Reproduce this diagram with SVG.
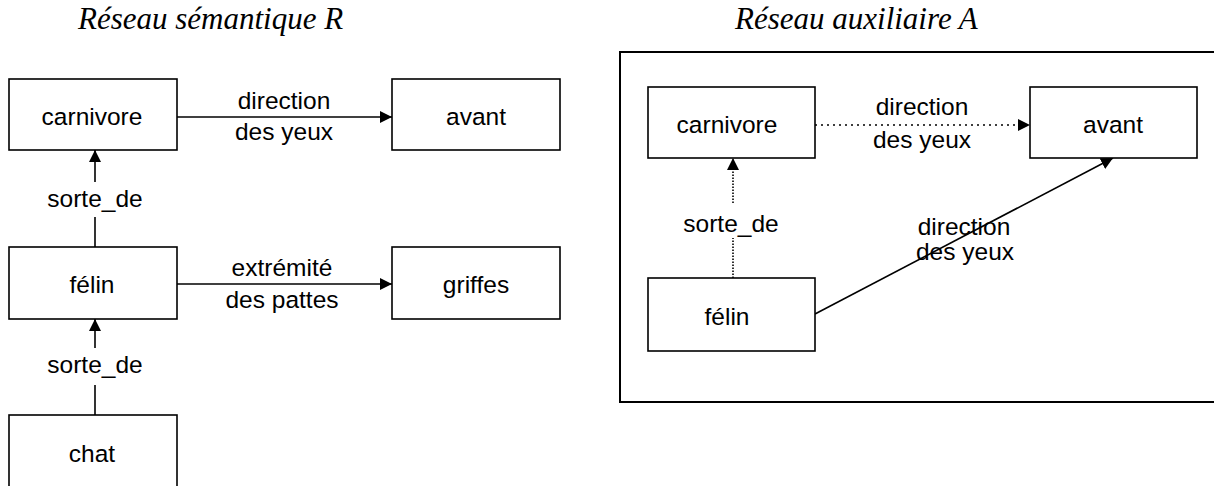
<svg xmlns="http://www.w3.org/2000/svg" width="1214" height="486" viewBox="0 0 1214 486">
<style>
.box{fill:#fff;stroke:#000;stroke-width:1.6}
.t{font-family:"Liberation Sans",Arial,sans-serif;font-size:24.5px;fill:#000;text-anchor:middle}
.title{font-family:"Liberation Serif","Times New Roman",serif;font-style:italic;font-size:31px;fill:#000}
.ln{stroke:#000;stroke-width:1.6;fill:none}
.dot{stroke:#000;stroke-width:1.6;fill:none;stroke-dasharray:2 4}
.vdot{stroke:#000;stroke-width:1.6;fill:none;stroke-dasharray:1.5 1.5}
</style>
<defs>
<marker id="ah" markerUnits="userSpaceOnUse" markerWidth="13" markerHeight="12" refX="12" refY="6" orient="auto">
<path d="M0,0 L12,6 L0,12 z" fill="#000"/>
</marker>
</defs>
<rect width="1214" height="486" fill="#fff"/>
<text class="title" x="78" y="29">Réseau sémantique R</text>
<text class="title" x="735" y="29">Réseau auxiliaire A</text>
<rect id="frameA" x="620" y="52" width="600" height="350" fill="none" stroke="#000" stroke-width="2"/>
<g id="connectors">
<line class="ln" x1="177" y1="117" x2="392" y2="117" marker-end="url(#ah)"/>
<line class="ln" x1="177" y1="284" x2="392" y2="284" marker-end="url(#ah)"/>
<line class="ln" x1="95" y1="247" x2="95" y2="217"/>
<line class="ln" x1="95" y1="182" x2="95" y2="150" marker-end="url(#ah)"/>
<line class="ln" x1="95" y1="415" x2="95" y2="385"/>
<line class="ln" x1="95" y1="348" x2="95" y2="319" marker-end="url(#ah)"/>
<line class="dot" x1="815" y1="125" x2="1030" y2="125" marker-end="url(#ah)"/>
<line class="vdot" x1="733" y1="278" x2="733" y2="238"/>
<line class="vdot" x1="733" y1="203" x2="733" y2="158" marker-end="url(#ah)"/>
<line class="ln" x1="815" y1="314" x2="1113" y2="158" marker-end="url(#ah)"/>
<text class="t" x="284" y="109">direction</text>
<text class="t" x="284" y="140">des yeux</text>
<text class="t" x="282" y="276">extrémité</text>
<text class="t" x="282" y="308">des pattes</text>
<text class="t" x="95" y="207">sorte_de</text>
<text class="t" x="95" y="373">sorte_de</text>
<text class="t" x="922" y="115">direction</text>
<text class="t" x="922" y="148">des yeux</text>
<text class="t" x="731" y="232">sorte_de</text>
<text class="t" x="964" y="235">direction</text>
<text class="t" x="965" y="260">des yeux</text>
</g>
<g id="R-carnivore"><rect class="box" x="9" y="79" width="168" height="71"/><text class="t" x="92" y="125">carnivore</text></g>
<g id="R-avant"><rect class="box" x="392" y="79" width="168" height="71"/><text class="t" x="476" y="125">avant</text></g>
<g id="R-felin"><rect class="box" x="9" y="247" width="168" height="72"/><text class="t" x="92" y="293">félin</text></g>
<g id="R-griffes"><rect class="box" x="392" y="247" width="168" height="72"/><text class="t" x="476" y="293">griffes</text></g>
<g id="R-chat"><rect class="box" x="9" y="415" width="168" height="80"/><text class="t" x="92" y="462">chat</text></g>
<g id="A-carnivore"><rect class="box" x="648" y="87" width="167" height="71"/><text class="t" x="727" y="133">carnivore</text></g>
<g id="A-avant"><rect class="box" x="1030" y="87" width="167" height="71"/><text class="t" x="1113" y="133">avant</text></g>
<g id="A-felin"><rect class="box" x="648" y="278" width="167" height="73"/><text class="t" x="727" y="325">félin</text></g>
</svg>
